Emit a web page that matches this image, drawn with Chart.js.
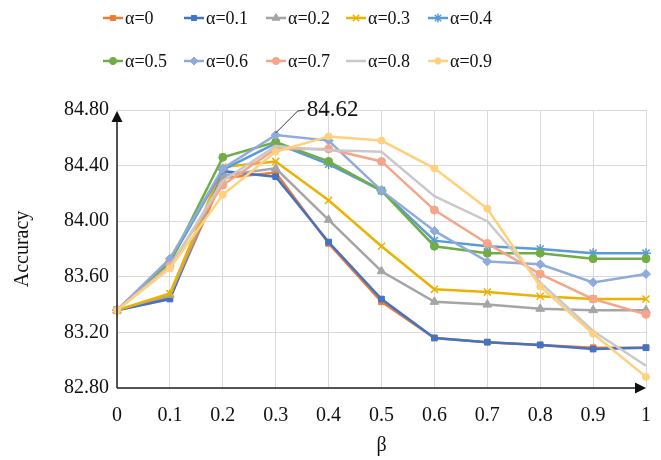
<!DOCTYPE html>
<html>
<head>
<meta charset="utf-8">
<script src="https://cdn.jsdelivr.net/npm/chart.js@4.4.1/dist/chart.umd.min.js"></script>
<style>
  html, body { margin: 0; padding: 0; background: #fff; }
  #wrap { width: 661px; height: 460px; position: relative; }
</style>
</head>
<body>
<div id="wrap"><canvas id="c"></canvas></div>
<script>
// data
const betaLabels = ['0','0.1','0.2','0.3','0.4','0.5','0.6','0.7','0.8','0.9','1'];
const alphaNames = ['α=0','α=0.1','α=0.2','α=0.3','α=0.4','α=0.5','α=0.6','α=0.7','α=0.8','α=0.9'];
const a00 = [83.36, 83.45, 84.31, 84.35, 83.84, 83.42, 83.16, 83.13, 83.11, 83.09, 83.09];
const a01 = [83.36, 83.44, 84.36, 84.32, 83.85, 83.44, 83.16, 83.13, 83.11, 83.08, 83.09];
const a02 = [83.36, 83.47, 84.33, 84.38, 84.01, 83.64, 83.42, 83.40, 83.37, 83.36, 83.36];
const a03 = [83.36, 83.48, 84.39, 84.43, 84.15, 83.82, 83.51, 83.49, 83.46, 83.44, 83.44];
const a04 = [83.36, 83.71, 84.37, 84.56, 84.41, 84.22, 83.86, 83.82, 83.80, 83.77, 83.77];
const a05 = [83.36, 83.70, 84.46, 84.57, 84.43, 84.22, 83.82, 83.77, 83.77, 83.73, 83.73];
const a06 = [83.36, 83.73, 84.38, 84.62, 84.58, 84.22, 83.93, 83.71, 83.69, 83.56, 83.62];
const a07 = [83.36, 83.68, 84.26, 84.52, 84.52, 84.43, 84.08, 83.84, 83.62, 83.44, 83.33];
const a08 = [83.36, 83.67, 84.29, 84.54, 84.51, 84.50, 84.18, 84.00, 83.56, 83.21, 82.96];
const a09 = [83.36, 83.66, 84.19, 84.50, 84.61, 84.58, 84.38, 84.09, 83.53, 83.19, 82.88];
const series = [a00, a01, a02, a03, a04, a05, a06, a07, a08, a09];
const yMin = 82.8, yMax = 84.8, yStep = 0.4;

const colors = ['#ED7D31','#4472C4','#A5A5A5','#EDB100','#5B9BD5','#70AD47','#8FAADC','#F4A58A','#C9C9C9','#FFD07E'];
const styles = ['rect','rect','triangle','crossRot','star','circle','rectRot','circle','circle','circle'];
const radii  = [4, 4, 5, 5, 5, 4, 4.5, 4, 0, 3.5];

const SERIF = '"Liberation Serif", "Times New Roman", serif';

const datasets = series.map((d, i) => ({
  label: alphaNames[i],
  data: d,
  borderColor: colors[i],
  backgroundColor: colors[i],
  pointBackgroundColor: colors[i],
  pointBorderColor: colors[i],
  pointStyle: styles[i],
  pointRadius: radii[i],
  pointBorderWidth: styles[i] === 'crossRot' || styles[i] === 'star' ? 1.5 : 1,
  borderWidth: 2.5,
  tension: 0,
  order: 10 - i
}));

// legend in two rows of five, drawn from the datasets
const legendPlugin = {
  id: 'gridLegend',
  afterDraw(chart) {
    const ctx = chart.ctx;
    const cols = [103, 184, 266, 346, 428];
    const rows = [18, 61];
    ctx.save();
    chart.data.datasets.forEach((ds, i) => {
      const x = cols[i % 5], y = rows[Math.floor(i / 5)];
      ctx.strokeStyle = ds.borderColor;
      ctx.lineWidth = 2.5;
      ctx.beginPath(); ctx.moveTo(x, y); ctx.lineTo(x + 20, y); ctx.stroke();
      if (ds.pointRadius > 0) {
        ctx.fillStyle = ds.pointBackgroundColor;
        ctx.strokeStyle = ds.pointBorderColor;
        ctx.lineWidth = ds.pointBorderWidth;
        Chart.helpers.drawPoint(ctx, {pointStyle: ds.pointStyle, radius: ds.pointRadius * 0.9, borderWidth: ds.pointBorderWidth, rotation: 0}, x + 10, y);
      }
      ctx.fillStyle = '#111';
      ctx.font = '18px ' + SERIF;
      ctx.textBaseline = 'middle';
      ctx.textAlign = 'left';
      ctx.fillText(ds.label, x + 22, y + 1);
    });
    ctx.restore();
  }
};

// axis lines with arrow heads, and the peak label
const axesPlugin = {
  id: 'arrowAxes',
  afterDatasetsDraw(chart) {
    const {ctx, chartArea: a, scales} = chart;
    ctx.save();
    ctx.strokeStyle = '#222';
    ctx.fillStyle = '#111';
    ctx.lineWidth = 1.5;
    ctx.beginPath();
    ctx.moveTo(a.left, a.bottom); ctx.lineTo(a.left, a.top + 8);
    ctx.moveTo(a.left, a.bottom); ctx.lineTo(a.right - 8, a.bottom);
    ctx.stroke();
    ctx.beginPath();
    ctx.moveTo(a.left, a.top + 1); ctx.lineTo(a.left - 5.5, a.top + 12); ctx.lineTo(a.left + 5.5, a.top + 12); ctx.closePath();
    ctx.fill();
    ctx.beginPath();
    ctx.moveTo(a.right, a.bottom); ctx.lineTo(a.right - 11, a.bottom - 5.5); ctx.lineTo(a.right - 11, a.bottom + 5.5); ctx.closePath();
    ctx.fill();

    // callout for the maximum of α=0.6
    const px = scales.x.getPixelForValue(3);
    const py = scales.y.getPixelForValue(a06[3]);
    ctx.strokeStyle = '#333';
    ctx.lineWidth = 1;
    ctx.beginPath();
    ctx.moveTo(px, py - 2); ctx.lineTo(px + 22, py - 24); ctx.lineTo(px + 29, py - 25);
    ctx.stroke();
    ctx.font = '23px ' + SERIF;
    ctx.textBaseline = 'middle';
    ctx.textAlign = 'left';
    ctx.fillText(a06[3].toFixed(2), px + 31, py - 25);
    ctx.restore();
  }
};

new Chart(document.getElementById('c'), {
  type: 'line',
  data: { labels: betaLabels, datasets },
  options: {
    responsive: true,
    maintainAspectRatio: false,
    animation: false,
    layout: { padding: { top: 110, right: 15, left: 0, bottom: 0 } },
    plugins: { legend: { display: false }, tooltip: { enabled: false } },
    scales: {
      x: {
        type: 'category',
        offset: false,
        grid: { color: '#D9D9D9', lineWidth: 1, drawTicks: false },
        border: { display: false },
        ticks: { color: '#111', font: { family: SERIF, size: 20 }, padding: 16, autoSkip: false, maxRotation: 0 },
        title: { display: true, text: 'β', color: '#111', font: { family: SERIF, size: 20 }, padding: { top: 0, bottom: 2 } },
        afterFit(s) { s.height = 72; s.paddingRight = 0; s.paddingLeft = 0; }
      },
      y: {
        min: yMin, max: yMax,
        grid: { color: '#D9D9D9', lineWidth: 1, drawTicks: false },
        border: { display: false },
        ticks: { stepSize: yStep, color: '#111', font: { family: SERIF, size: 20 }, padding: 8,
                 callback: v => Number(v).toFixed(2) },
        title: { display: true, text: 'Accuracy', color: '#111', font: { family: SERIF, size: 20 }, padding: { top: 11, bottom: 0 } },
        afterFit(s) { s.width = 117; }
      }
    }
  },
  plugins: [legendPlugin, axesPlugin]
});
</script>
</body>
</html>
